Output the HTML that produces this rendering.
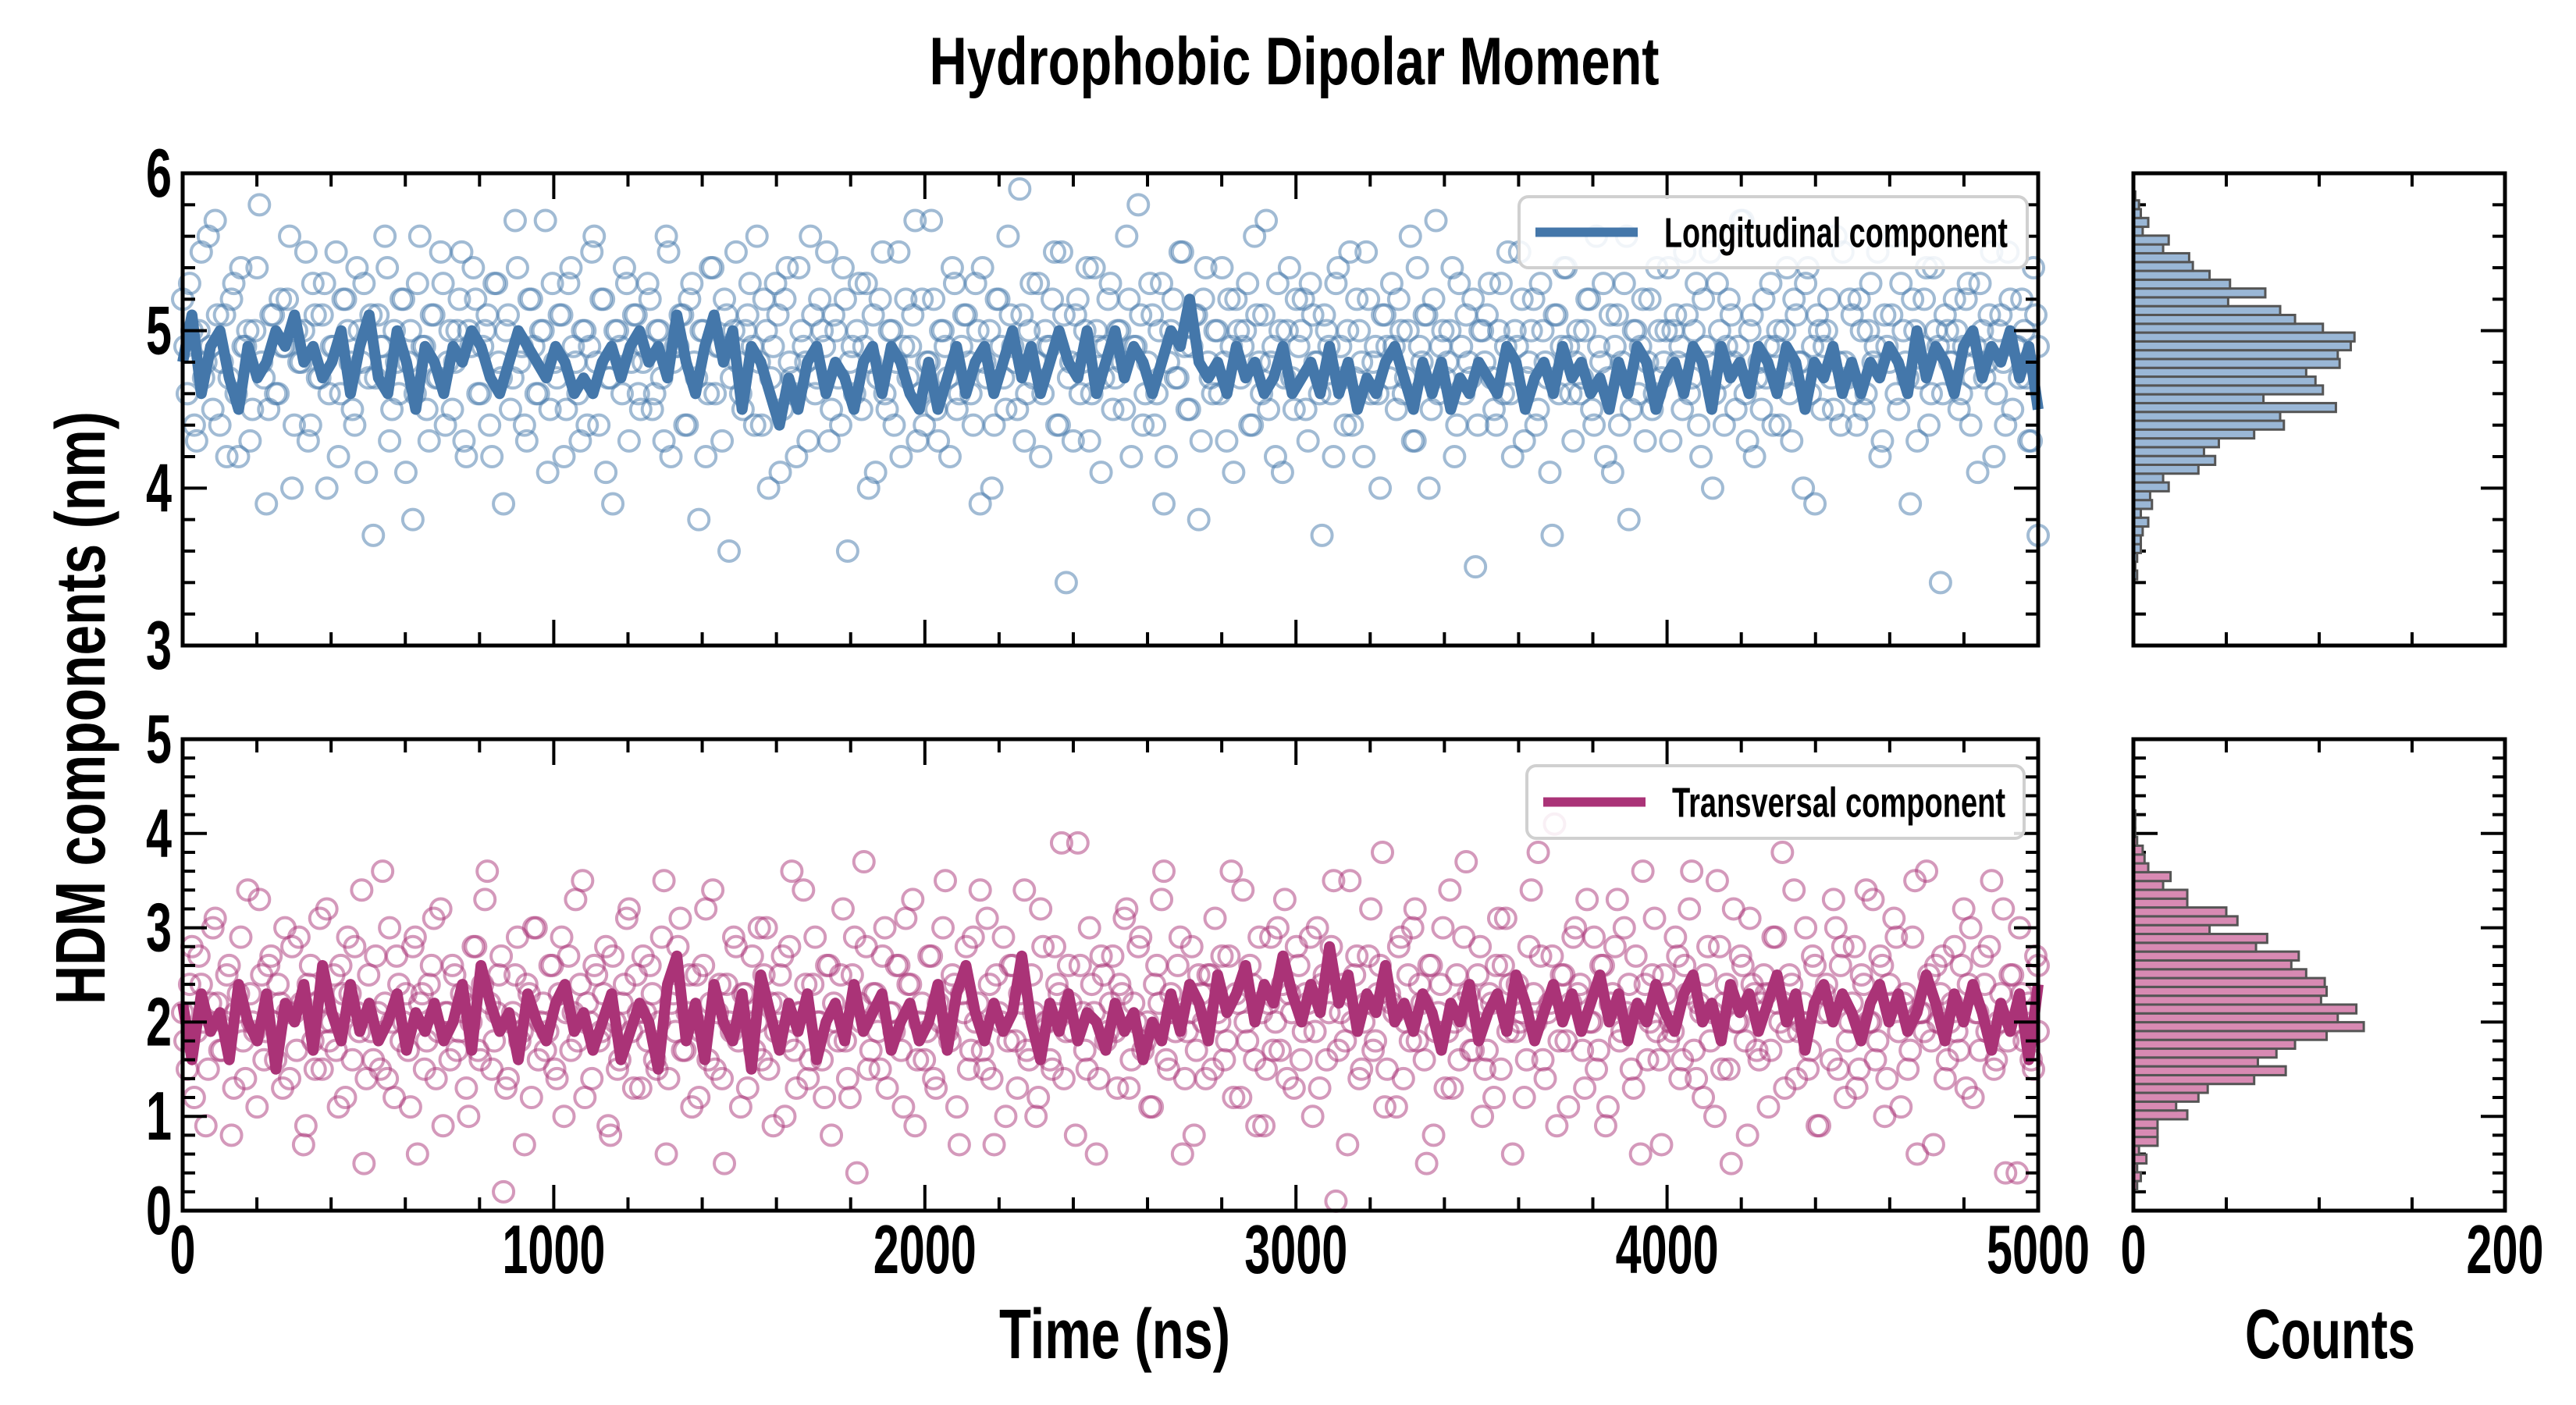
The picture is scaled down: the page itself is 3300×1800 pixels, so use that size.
<!DOCTYPE html>
<html><head><meta charset="utf-8"><title>Hydrophobic Dipolar Moment</title>
<style>
html,body{margin:0;padding:0;background:#fff;}
svg{display:block;}
text{font-family:"Liberation Sans Narrow","Liberation Sans",sans-serif;font-weight:bold;fill:#000;}
</style></head>
<body>
<svg id="chart" width="3300" height="1800" viewBox="0 0 3300 1800" xmlns="http://www.w3.org/2000/svg">
<rect width="3300" height="1800" fill="#fff"/>
<text x="1658" y="108" font-size="86" text-anchor="middle" textLength="935" lengthAdjust="spacingAndGlyphs">Hydrophobic Dipolar Moment</text>
<text transform="translate(134,907) rotate(-90)" font-size="90" text-anchor="middle" textLength="760" lengthAdjust="spacingAndGlyphs">HDM components (nm)</text>
<text x="1428" y="1740" font-size="90" text-anchor="middle" textLength="296" lengthAdjust="spacingAndGlyphs">Time (ns)</text>
<text x="2985" y="1740" font-size="90" text-anchor="middle" textLength="218" lengthAdjust="spacingAndGlyphs">Counts</text>
<g id="layer"></g>
</svg>
<script>
// ---------- data ----------
const timeMax = 5000;
const longScatter = [
5.2,4.6,5.0,4.3,5.5,4.8,4.9,5.7,4.4,5.1,4.7,5.3,4.2,4.9,5.0,4.5,5.4,4.8,3.9,5.1,
4.6,5.2,4.9,5.6,4.4,4.8,5.0,4.3,5.3,4.7,5.1,4.0,4.9,5.5,4.6,5.2,4.8,4.4,5.0,5.3,
4.7,3.7,5.1,4.9,5.4,4.5,4.8,5.2,4.1,5.0,4.6,5.6,4.9,4.3,5.1,4.7,5.3,4.8,4.5,5.0,
5.5,4.2,4.9,5.2,4.6,5.0,4.4,5.3,4.8,3.9,5.1,4.7,5.4,4.9,4.3,5.2,4.6,5.0,5.7,4.5,
4.8,5.1,4.2,5.3,4.9,4.6,5.0,4.4,5.5,4.8,5.2,4.1,4.7,5.0,4.9,5.4,4.3,5.1,4.6,4.8,
5.3,4.5,5.0,4.7,5.6,4.2,4.9,5.1,4.4,5.2,4.8,3.8,5.0,4.6,5.4,4.9,4.3,5.1,4.7,5.5,
4.6,5.0,5.3,4.4,4.8,5.2,4.0,4.9,5.1,4.5,5.4,4.7,4.2,5.0,4.8,5.6,4.6,5.2,4.9,4.3,
5.1,4.7,5.4,3.6,4.9,5.0,4.5,5.3,4.8,4.1,5.2,4.6,5.0,4.4,5.5,4.9,4.7,5.1,4.3,5.2,
4.8,5.7,4.5,5.0,4.9,4.2,5.3,4.6,5.1,4.8,4.4,5.0,5.4,4.7,4.0,5.2,4.9,4.5,5.1,4.8,
5.9,4.3,5.0,4.7,5.3,4.6,4.9,5.2,4.4,5.5,3.4,4.8,5.1,4.6,5.0,4.3,5.4,4.9,4.7,5.2,
4.5,5.0,4.8,5.6,4.2,4.9,5.1,4.6,5.3,4.4,5.0,3.9,4.8,5.2,4.7,5.5,4.5,4.9,5.1,4.3,
5.4,4.7,5.0,4.6,4.8,5.2,4.1,5.0,4.9,5.3,4.4,5.1,4.6,5.7,4.8,4.2,5.0,4.7,5.4,4.5,
4.9,5.2,4.3,5.1,4.8,3.7,5.0,4.6,5.3,4.9,4.4,5.5,4.7,5.0,4.2,5.2,4.8,4.6,5.1,4.9,
5.3,4.5,5.0,4.7,5.6,4.3,4.9,5.1,4.0,5.2,4.6,5.0,4.8,5.4,4.4,4.9,5.1,4.7,3.5,5.0,
4.8,5.3,4.5,5.0,4.6,5.5,4.2,4.9,5.2,4.7,5.0,4.4,5.3,4.8,4.1,5.1,4.6,5.4,4.9,4.3,
5.0,4.7,5.2,4.5,5.6,4.8,4.2,5.1,4.9,4.4,5.3,3.8,5.0,4.6,5.2,4.8,4.5,5.4,4.7,5.0,
4.3,5.1,4.9,5.5,4.6,5.0,4.4,5.2,4.8,4.0,5.3,4.7,4.9,5.1,4.5,5.7,4.6,5.0,4.2,4.8,
5.2,4.9,4.4,5.0,4.7,5.4,4.3,5.1,4.8,5.3,4.6,3.9,5.0,4.9,5.2,4.5,4.8,5.5,4.7,5.1,
4.4,5.0,4.6,5.3,4.9,4.2,5.1,4.8,5.6,4.5,5.0,4.7,5.2,4.3,4.9,5.4,4.6,5.0,3.4,5.1,
4.8,5.2,4.5,4.9,5.3,4.7,4.1,5.0,4.8,5.5,4.6,5.1,4.4,5.2,4.9,4.7,5.0,4.3,5.4,3.7
];
const longScatterExtra = [
4.9,5.3,4.4,5.0,4.7,5.6,4.5,5.1,4.8,4.2,5.2,4.6,5.4,4.9,4.3,5.0,5.8,4.7,4.5,5.1,
4.6,4.9,5.2,4.0,5.0,4.8,5.5,4.4,5.1,4.7,5.3,4.6,4.9,4.2,5.2,5.0,4.5,5.4,4.8,4.1,
5.1,4.7,4.9,5.6,4.3,5.0,4.6,5.2,4.8,3.8,5.3,4.9,4.5,5.1,4.7,5.5,4.4,5.0,4.8,5.2,
4.3,5.0,5.4,4.6,4.9,5.1,4.2,5.3,4.7,5.0,4.5,5.7,4.8,4.4,5.2,4.9,4.6,5.0,4.1,5.3,
4.7,5.1,4.5,5.4,4.8,4.3,5.0,4.9,5.6,4.4,5.2,4.7,3.9,5.0,4.6,5.3,4.8,5.1,4.5,4.9,
5.2,4.6,5.0,4.3,5.5,4.8,4.9,5.1,4.4,5.3,4.7,5.0,4.2,5.4,4.6,4.9,5.2,3.6,5.0,4.8,
4.5,5.1,4.9,5.6,4.4,5.0,4.7,5.3,4.1,5.2,4.8,4.6,5.4,4.9,4.3,5.1,4.7,5.0,5.5,4.5,
5.0,4.4,5.2,4.8,4.6,5.3,4.9,4.0,5.1,4.7,5.5,4.5,5.0,4.8,4.2,5.2,4.9,5.7,4.6,4.4,
4.8,5.2,4.3,5.0,4.7,5.4,4.5,4.9,5.1,4.6,5.3,3.9,4.8,5.0,4.4,5.2,4.7,5.6,4.9,4.5,
5.1,4.6,5.3,4.8,4.2,5.0,4.9,5.5,4.4,5.1,4.7,4.3,5.2,4.8,5.4,4.6,5.0,4.1,4.9,5.3,
4.7,5.0,4.5,5.2,4.9,5.8,4.4,4.8,5.1,4.6,5.3,4.2,5.0,4.7,5.5,4.9,4.5,5.1,3.8,5.2,
4.8,4.6,5.0,5.4,4.3,4.9,5.2,4.7,5.0,4.4,5.6,4.8,5.1,4.5,4.9,5.3,4.1,5.0,4.7,5.2,
5.0,4.5,5.3,4.8,4.6,5.1,4.9,4.2,5.4,4.7,5.0,4.4,5.2,4.8,5.5,4.6,4.9,4.0,5.1,4.7,
4.9,5.2,4.6,5.0,4.3,5.4,4.8,5.1,4.5,5.7,4.9,4.7,5.0,4.2,5.3,4.6,4.8,5.2,4.4,5.0,
5.1,4.7,4.4,5.3,4.9,4.6,5.0,5.5,4.3,4.8,5.2,4.5,5.0,4.7,3.7,5.1,4.9,5.4,4.6,4.8,
4.6,5.0,5.2,4.4,4.9,5.3,4.7,4.1,5.1,4.8,5.6,4.5,5.0,4.9,4.3,5.2,4.6,5.0,4.8,5.4,
5.0,4.8,4.5,5.1,4.7,5.3,4.2,4.9,5.5,4.6,5.0,4.4,5.2,4.8,4.9,5.7,4.3,5.1,4.7,4.5,
4.7,5.3,4.9,4.4,5.0,4.6,5.2,4.8,4.0,5.4,4.9,5.1,4.5,5.0,4.7,5.6,4.4,4.8,5.2,4.6,
5.2,4.5,5.0,4.8,5.5,4.3,4.9,5.1,4.6,5.3,4.8,3.9,5.0,4.7,5.2,4.4,5.4,4.9,4.6,5.0,
4.8,5.0,4.6,5.2,4.4,4.9,5.3,4.7,5.1,4.2,5.0,4.8,5.5,4.5,4.9,5.2,4.7,4.3,5.1,4.9
];
const transScatter = [
2.1,1.5,2.8,1.9,2.4,0.9,2.2,3.1,1.7,2.0,2.6,1.3,2.3,1.8,3.4,2.0,1.1,2.5,1.9,2.7,
1.6,2.2,3.0,1.4,2.1,2.9,0.7,2.4,1.8,2.2,1.5,3.2,2.0,1.7,2.6,1.2,2.3,2.8,1.9,0.5,
2.5,1.6,2.1,3.6,1.4,2.0,2.7,1.8,2.3,1.1,2.9,2.2,1.5,2.4,3.1,1.9,0.9,2.1,2.6,1.7,
2.3,1.3,2.0,2.8,1.6,3.3,2.2,1.8,2.5,0.2,1.4,2.1,2.9,1.9,2.4,1.2,3.0,2.0,1.7,2.6,
1.5,2.3,1.0,2.7,2.1,1.8,3.5,2.2,1.4,2.5,1.9,2.8,0.8,2.0,1.6,2.4,3.2,1.3,2.1,2.7,
1.8,2.3,1.5,2.9,0.6,2.2,1.9,3.1,1.7,2.5,2.0,1.2,2.6,1.6,3.4,2.1,1.4,2.4,1.9,2.8,
1.1,2.3,2.0,1.7,3.0,2.5,1.5,0.9,2.2,2.7,1.8,3.6,1.3,2.1,2.4,1.6,2.9,2.0,1.2,2.6,
2.2,1.8,3.2,1.4,2.5,0.4,2.0,2.8,1.7,2.3,1.5,3.0,2.1,1.9,2.6,1.1,2.4,3.3,1.6,2.2,
1.9,2.7,1.3,2.0,3.5,1.8,2.4,0.7,2.1,1.5,2.9,2.2,1.7,3.1,1.4,2.5,2.0,1.0,2.6,1.8,
2.3,3.4,1.6,2.1,1.2,2.8,2.0,1.5,2.4,3.9,1.9,2.2,0.8,2.6,1.7,3.0,2.1,1.4,2.5,1.9,
2.7,1.3,2.3,3.2,1.6,2.0,2.9,1.8,1.1,2.4,2.2,3.6,1.5,2.1,2.6,0.6,1.9,2.8,1.7,2.3,
1.4,2.5,3.1,2.0,1.6,2.7,1.2,2.2,3.4,1.8,2.4,0.9,2.1,1.5,2.9,2.0,1.7,3.3,2.3,1.3,
2.6,1.9,2.2,1.0,3.0,2.4,1.6,2.8,0.1,2.1,1.8,3.5,2.5,1.4,2.0,2.7,1.7,2.3,3.8,1.5,
2.2,1.1,2.9,2.0,1.8,3.2,2.4,1.6,2.6,0.8,2.1,3.0,1.9,1.3,2.5,2.2,3.7,1.7,2.0,2.8,
1.5,2.3,1.2,3.1,2.6,1.9,0.6,2.4,2.1,1.6,3.4,2.0,2.7,1.4,2.2,4.1,1.8,2.5,1.1,2.9,
2.3,1.7,3.3,2.0,1.5,2.6,0.9,2.2,2.8,1.8,3.0,2.4,1.3,2.1,3.6,1.6,2.5,1.9,0.7,2.3,
2.0,2.9,1.4,2.6,3.2,1.7,2.2,1.2,2.8,2.1,3.5,1.5,2.4,0.5,2.0,2.7,1.8,3.1,2.3,1.6,
2.5,1.1,2.9,2.2,3.8,1.9,2.4,1.4,2.0,3.0,1.7,2.6,0.9,2.3,2.1,3.3,1.5,2.8,1.8,2.2,
1.3,2.5,3.4,2.0,1.6,2.7,1.0,2.4,3.1,1.9,2.2,1.5,2.9,0.6,2.1,3.6,1.8,2.6,2.3,1.4,
2.0,2.8,1.7,3.2,2.4,1.2,2.1,2.7,1.9,3.5,1.6,2.3,0.4,2.5,2.0,3.0,1.8,2.2,1.5,2.6
];
const transScatterExtra = [
1.8,2.4,1.2,2.7,2.0,1.5,3.0,2.2,1.7,2.5,0.8,2.1,2.9,1.4,2.3,1.9,3.3,1.6,2.6,2.0,
2.4,1.3,2.1,2.8,1.7,2.2,0.9,2.6,1.5,3.1,2.0,1.8,2.5,1.1,2.3,2.9,1.6,2.1,3.4,1.4,
1.9,2.7,1.5,2.2,3.0,1.2,2.4,2.0,1.7,2.8,0.6,2.3,1.8,2.6,1.4,3.2,2.1,1.6,2.5,1.9,
2.2,1.0,2.8,1.7,2.4,3.6,1.5,2.1,2.7,1.3,2.0,2.5,1.8,0.7,2.3,3.0,1.6,2.2,1.9,2.6,
1.4,2.9,2.1,1.7,3.3,2.4,1.2,2.0,2.6,1.8,2.3,0.9,2.7,1.5,2.2,3.1,1.9,2.5,1.3,2.1,
2.6,1.6,2.0,3.5,1.4,2.3,2.8,1.7,2.1,1.1,2.5,1.9,3.2,2.2,1.5,2.4,0.5,2.0,2.9,1.8,
2.3,1.3,2.7,2.0,1.6,3.0,2.2,1.9,2.5,1.0,2.8,1.7,2.1,3.4,1.4,2.4,2.0,1.6,2.6,0.8,
2.0,2.5,1.8,1.2,2.9,2.2,3.7,1.5,2.3,1.9,2.7,1.3,2.1,2.6,1.7,3.1,2.4,0.9,2.0,1.6,
2.7,1.4,2.2,3.0,1.9,2.5,1.1,2.3,2.8,1.7,2.0,3.4,1.5,2.4,0.7,2.1,2.9,1.8,2.6,1.3,
2.2,1.7,2.5,1.0,3.2,2.0,1.6,2.8,2.3,1.4,2.6,1.9,3.9,2.1,1.5,2.4,0.6,2.7,1.8,2.2,
1.9,2.4,3.1,1.3,2.2,2.8,1.7,2.0,1.1,2.6,3.3,1.6,2.3,1.9,2.9,1.4,2.1,0.8,2.5,2.0,
2.5,1.5,2.1,2.7,1.8,3.6,2.3,1.2,2.0,2.6,1.6,2.9,0.9,2.2,1.7,3.0,2.4,1.4,2.1,2.8,
1.6,2.3,2.9,1.9,1.3,2.5,2.1,3.5,1.7,2.4,0.7,2.0,2.7,1.5,2.2,3.2,1.8,2.6,1.1,2.3,
2.1,2.8,1.4,2.5,3.0,1.8,2.2,0.5,2.6,1.9,2.4,1.3,3.4,2.0,1.6,2.9,2.3,1.7,2.5,1.0,
1.7,2.2,2.6,1.5,3.1,2.4,1.9,2.0,1.2,2.8,2.3,3.8,1.6,2.1,2.7,0.9,2.5,1.8,2.2,3.0,
2.4,1.3,2.0,2.9,1.7,2.6,1.1,2.3,3.3,1.9,2.1,1.5,2.7,0.6,2.4,2.0,3.1,1.6,2.5,1.8,
1.9,2.7,1.6,2.3,3.6,1.4,2.1,2.5,1.8,1.0,2.8,2.2,1.5,3.2,2.0,2.6,0.8,2.4,1.7,2.2,
2.3,1.7,2.9,2.0,1.3,2.5,3.4,1.9,2.2,1.5,2.7,0.9,2.1,2.4,1.6,3.0,2.6,1.2,2.0,2.8,
1.5,2.4,2.0,3.3,1.8,2.6,1.4,2.2,2.9,1.1,2.3,1.7,3.5,2.1,1.9,2.5,0.7,2.0,2.7,1.6,
2.2,1.9,2.6,1.3,3.0,2.1,1.7,2.4,2.8,1.5,2.0,3.2,1.8,2.5,0.4,2.3,2.1,1.6,2.7,1.9
];
const longLine = [
4.8,5.1,4.6,4.9,5.0,4.7,4.5,4.9,4.7,4.8,5.0,4.9,5.1,4.8,4.9,4.7,4.8,5.0,4.6,4.9,
5.1,4.7,4.6,5.0,4.8,4.5,4.9,4.8,4.6,4.9,4.8,5.0,4.9,4.7,4.6,4.8,5.0,4.9,4.8,4.7,
4.9,4.8,4.6,4.7,4.6,4.8,4.9,4.7,4.9,5.0,4.8,4.9,4.7,5.1,4.8,4.6,4.9,5.1,4.8,5.0,
4.5,4.9,4.8,4.6,4.4,4.7,4.5,4.8,4.9,4.6,4.8,4.7,4.5,4.8,4.9,4.6,4.9,4.8,4.6,4.5,
4.8,4.5,4.7,4.9,4.6,4.8,4.9,4.6,4.8,5.0,4.7,4.9,4.6,4.8,5.0,4.8,4.7,5.0,4.6,4.8,
5.0,4.7,4.9,4.8,4.6,4.8,5.0,4.9,5.2,4.8,4.7,4.8,4.6,4.9,4.7,4.8,4.6,4.7,4.9,4.6,
4.7,4.8,4.6,4.9,4.6,4.8,4.5,4.7,4.6,4.8,4.9,4.7,4.5,4.8,4.6,4.8,4.5,4.7,4.6,4.8,
4.7,4.6,4.9,4.8,4.5,4.7,4.8,4.6,4.9,4.7,4.8,4.6,4.7,4.5,4.8,4.6,4.9,4.8,4.5,4.7,
4.8,4.6,4.9,4.8,4.5,4.9,4.7,4.8,4.6,4.9,4.8,4.6,4.9,4.8,4.5,4.8,4.7,4.9,4.6,4.8,
4.6,4.8,4.7,4.9,4.8,4.6,5.0,4.7,4.9,4.8,4.6,4.9,5.0,4.7,4.9,4.8,5.0,4.7,4.9,4.5
];
const transLine = [
2.2,1.6,2.3,1.9,2.1,1.6,2.4,2.0,1.8,2.3,1.5,2.2,2.0,2.4,1.7,2.6,2.1,1.8,2.4,1.9,
2.2,1.8,2.0,2.3,1.7,2.1,1.9,2.2,1.8,2.0,2.4,1.7,2.6,2.2,1.9,2.1,1.6,2.3,2.0,1.8,
2.2,2.4,1.9,2.1,1.7,2.0,2.3,1.6,1.9,2.2,2.0,1.5,2.4,2.7,1.8,2.2,1.6,2.4,2.0,1.8,
2.3,1.5,2.5,2.1,1.7,2.2,1.9,2.3,1.6,2.0,2.2,1.8,2.4,1.9,2.1,2.3,1.7,2.0,2.2,1.8,
2.0,2.4,1.7,2.3,2.6,2.1,1.8,2.2,1.9,2.1,2.7,2.0,1.6,2.2,1.9,2.3,1.8,2.1,2.0,1.7,
2.2,1.9,2.1,1.6,2.0,1.8,2.3,1.9,2.4,2.2,1.8,2.5,2.1,2.3,2.6,2.0,2.4,2.2,2.7,2.3,
2.0,2.4,2.1,2.8,2.2,2.5,1.9,2.3,2.1,2.6,2.0,2.2,1.9,2.3,2.1,1.7,2.2,2.0,2.4,1.8,
2.1,2.3,1.9,2.5,2.2,1.8,2.1,2.4,2.0,2.3,1.9,2.2,2.5,2.0,2.3,1.8,2.2,2.0,2.4,2.1,
1.9,2.3,2.5,2.0,2.2,1.8,2.4,2.1,2.3,1.9,2.2,2.5,2.0,2.3,1.7,2.2,2.4,2.0,2.3,2.1,
1.8,2.2,2.4,2.0,2.3,1.9,2.1,2.5,2.2,1.8,2.3,2.0,2.4,2.1,1.7,2.2,1.9,2.3,1.6,2.4
];
// histogram bins (lower edge), width, counts - ascending
const longBinStart = 3.42;
const longBinWidth = 0.056;
const longCounts = [2,1,2,4,4,5,8,4,10,9,19,16,35,44,38,46,65,81,79,109,70,102,98,93,111,110,117,119,102,87,79,51,71,52,41,32,30,16,19,5,8,4,3,1];
const transBinStart = 0.22;
const transBinWidth = 0.0936;
const transCounts = [2,4,2,7,3,13,13,13,29,23,35,40,65,82,67,77,87,104,124,110,120,101,104,103,93,85,89,66,72,41,56,50,29,29,16,20,8,6,5,2,1,1,1];

// ---------- layout ----------
const NS = "http://www.w3.org/2000/svg";
const layer = document.getElementById("layer");
const MX0 = 234, MX1 = 2611, HX0 = 2733, HX1 = 3209;
const DIGIT_W = 33;
const panels = [
  {key:"longitudinal", y0:222, y1:827, vmin:3, vmax:6, color:"#4477aa", light:"rgba(68,119,170,0.5)", hist:"#9ab7d6",
   scatter:longScatter, scatter2:longScatterExtra, line:longLine, binStart:longBinStart, binW:longBinWidth, counts:longCounts, legend:"Longitudinal component",
   lg:{x:1946,y:252,w:651,h:91,tw:440}},
  {key:"transversal", y0:947, y1:1551, vmin:0, vmax:5, color:"#aa3377", light:"rgba(170,51,119,0.5)", hist:"#d88ab3",
   scatter:transScatter, scatter2:transScatterExtra, line:transLine, binStart:transBinStart, binW:transBinWidth, counts:transCounts, legend:"Transversal component",
   lg:{x:1956,y:981,w:637,h:93,tw:427}}
];
function mk(tag, attrs, parent){
  const e = document.createElementNS(NS, tag);
  for (const k in attrs) e.setAttribute(k, attrs[k]);
  (parent||layer).appendChild(e);
  return e;
}
const xTime = t => MX0 + (t / timeMax) * (MX1 - MX0);
const xCount = c => HX0 + (c / 200) * (HX1 - HX0);

panels.forEach((p, pi) => {
  const yv = v => p.y1 - (v - p.vmin) / (p.vmax - p.vmin) * (p.y1 - p.y0);
  const g = mk("g", {});
  
  
  // scatter
  const sg = mk("g", {}, g);
  
  
  [[p.scatter, 0], [p.scatter2, 0.5]].forEach(([arr, off]) => {
    const n = arr.length;
    arr.forEach((v, i) => {
      const t = Math.min(timeMax, (i + off) * timeMax / (n - 1));
      const c = mk("circle", {cx: xTime(t), cy: yv(v), r: 13, fill: "none", stroke: p.light, "stroke-width": 4}, sg);
      
      
    });
  });
  // line
  const m = p.line.length;
  const pts = p.line.map((v, i) => xTime(i * timeMax / (m - 1)).toFixed(1) + "," + yv(v).toFixed(1)).join(" ");
  const pl = mk("polyline", {points: pts, fill: "none", stroke: p.color, "stroke-width": 14, "stroke-linejoin": "round"}, g);
  
  
  // main frame
  const fr = mk("rect", {x: MX0, y: p.y0, width: MX1 - MX0, height: p.y1 - p.y0, fill: "none", stroke: "#000", "stroke-width": 5}, g);
  
  
  // y ticks (main + hist)
  for (let k = 0; k <= (p.vmax - p.vmin) * 5; k++) {
    const v = p.vmin + k * 0.2;
    const y = yv(v);
    const major = Math.abs(v - Math.round(v)) < 1e-6;
    const L = major ? 31 : 16;
    [[MX0, L], [MX1, -L], [HX0, L], [HX1, -L]].forEach(([x, d]) => {
      const t = mk("line", {x1: x, y1: y, x2: x + d, y2: y, stroke: "#000", "stroke-width": 4}, g);
      
      
    });
    if (major) {
      const s = String(v.toFixed(0));
      const lab = mk("text", {x: 220, y: y + 30, "font-size": 88, "text-anchor": "end", textLength: DIGIT_W * s.length, lengthAdjust: "spacingAndGlyphs"}, g);
      lab.textContent = s;
      
      
    }
  }
  // x ticks main
  for (let t = 0; t <= timeMax; t += 200) {
    const x = xTime(t);
    const major = t % 1000 === 0;
    const L = major ? 33 : 17;
    [[p.y0, L], [p.y1, -L]].forEach(([y, d]) => {
      const tk = mk("line", {x1: x, y1: y, x2: x, y2: y + d, stroke: "#000", "stroke-width": 4}, g);
      
      
    });
    if (major && pi === 1) {
      const s = String(t);
      const lab = mk("text", {x: x, y: 1631, "font-size": 88, "text-anchor": "middle", textLength: DIGIT_W * s.length, lengthAdjust: "spacingAndGlyphs"}, g);
      lab.textContent = s;
      
      
    }
  }
  // histogram bars
  const hg = mk("g", {}, g);
  
  
  p.counts.forEach((c, i) => {
    const lo = p.binStart + i * p.binW, hi = lo + p.binW;
    const b = mk("rect", {x: HX0, y: yv(hi), width: xCount(c) - HX0, height: yv(lo) - yv(hi), fill: p.hist, stroke: "#555", "stroke-width": 3}, hg);
    
    
  });
  const hf = mk("rect", {x: HX0, y: p.y0, width: HX1 - HX0, height: p.y1 - p.y0, fill: "none", stroke: "#000", "stroke-width": 5}, g);
  
  
  for (let c = 50; c < 200; c += 50) {
    const x = xCount(c);
    [[p.y0, 17], [p.y1, -17]].forEach(([y, d]) => {
      const tk = mk("line", {x1: x, y1: y, x2: x, y2: y + d, stroke: "#000", "stroke-width": 4}, g);
      
      
    });
  }
  if (pi === 1) {
    [0, 200].forEach(c => {
      const s = String(c);
      const lab = mk("text", {x: xCount(c), y: 1631, "font-size": 88, "text-anchor": "middle", textLength: DIGIT_W * s.length, lengthAdjust: "spacingAndGlyphs"}, g);
      lab.textContent = s;
      
      
    });
  }
  // legend
  const lgG = mk("g", {}, g);
  
  
  mk("rect", {x: p.lg.x, y: p.lg.y, width: p.lg.w, height: p.lg.h, rx: 12, fill: "rgba(255,255,255,0.85)", stroke: "#d0d0d0", "stroke-width": 4}, lgG);
  const ly = p.lg.y + p.lg.h / 2;
  mk("line", {x1: p.lg.x + 21, y1: ly, x2: p.lg.x + 152, y2: ly, stroke: p.color, "stroke-width": 12}, lgG);
  const lt = mk("text", {x: p.lg.x + 186, y: ly + 19, "font-size": 54, textLength: p.lg.tw, lengthAdjust: "spacingAndGlyphs"}, lgG);
  lt.textContent = p.legend;
  
  
});
</script>
</body></html>
